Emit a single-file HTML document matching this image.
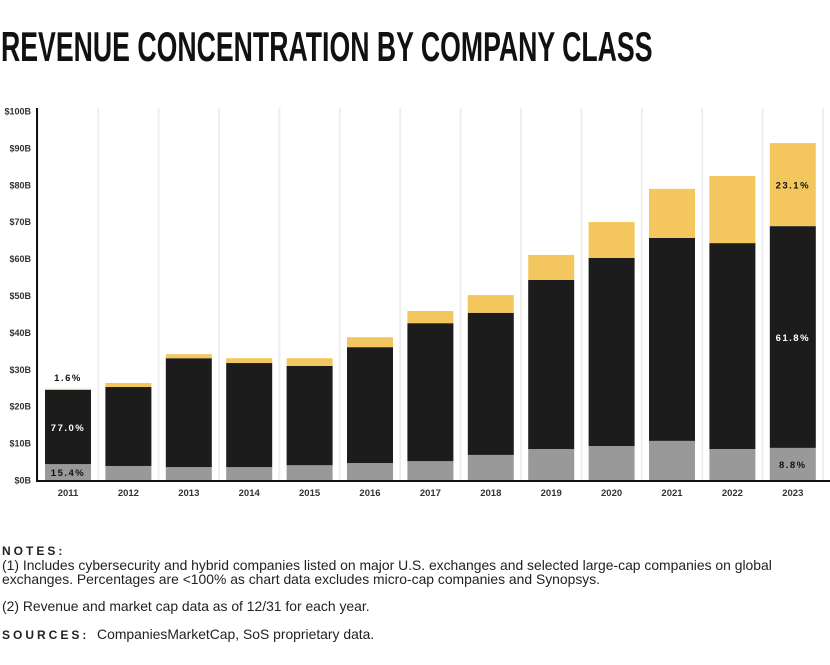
<!DOCTYPE html>
<html><head><meta charset="utf-8"><style>
body{margin:0;width:830px;height:665px;background:#fff;font-family:"Liberation Sans",sans-serif;overflow:hidden;position:relative}
#title{position:absolute;left:1px;top:25px;font-family:"Liberation Sans",sans-serif;font-weight:bold;font-size:42px;line-height:44px;letter-spacing:0;transform:scaleX(0.635);transform-origin:left;color:#111;margin:0;white-space:nowrap}
.notes{position:absolute;left:2px;width:785px;font-size:13.9px;color:#222;line-height:14px}
.hd{font-weight:bold;letter-spacing:3px;font-size:12px}
</style></head><body>
<h1 id="title">REVENUE CONCENTRATION BY COMPANY CLASS</h1>
<svg id="chart" width="830" height="500" style="position:absolute;left:0;top:0"></svg>
<div class="notes" style="top:543px"><span class="hd">NOTES:</span><br>(1) Includes cybersecurity and hybrid companies listed on major U.S. exchanges and selected large-cap companies on global exchanges. Percentages are &lt;100% as chart data excludes micro-cap companies and Synopsys.</div>
<div class="notes" style="top:599px">(2) Revenue and market cap data as of 12/31 for each year.</div>
<div class="notes" style="top:627px"><span class="hd">SOURCES:</span>&nbsp; CompaniesMarketCap, SoS proprietary data.</div>
<script>
const years=["2011","2012","2013","2014","2015","2016","2017","2018","2019","2020","2021","2022","2023"];
const grayVals=[4.3,3.8,3.5,3.5,4.0,4.6,5.1,6.8,8.4,9.2,10.6,8.4,8.7];
const blackVals=[20.1,21.4,29.5,28.2,26.9,31.4,37.4,38.5,45.8,51.0,55.0,55.8,60.1];
const yellowVals=[0.3,1.1,1.1,1.3,2.1,2.7,3.3,4.8,6.8,9.7,13.3,18.2,22.5];
const yTicks=[0,10,20,30,40,50,60,70,80,90,100];
const labels=[{i:0,s:"gray",t:"15.4%"},{i:0,s:"black",t:"77.0%"},{i:0,s:"yellow",t:"1.6%"},{i:12,s:"gray",t:"8.8%"},{i:12,s:"black",t:"61.8%"},{i:12,s:"yellow",t:"23.1%"}];
const svg=document.getElementById('chart');const NS="http://www.w3.org/2000/svg";
const y0=480,y1=111;const y=v=>y0-(y0-y1)*v/100;
const xc=i=>68+i*60.4;const bw=46;
function mk(t,a){const e=document.createElementNS(NS,t);for(const k in a)e.setAttribute(k,a[k]);svg.appendChild(e);return e;}
for(let i=0;i<=years.length;i++){const g=mk('line',{x1:xc(i)-30.2,x2:xc(i)-30.2,y1:108,y2:480,stroke:'#eee','stroke-width':2});

}
yTicks.forEach(v=>{const t=mk('text',{x:31,y:y(v)+3.5,'text-anchor':'end','font-size':9,'font-weight':'bold',fill:'#333'});t.textContent='$'+v+'B';

});
const segs={gray:[],black:[],yellow:[]};
years.forEach((yr,i)=>{let b=0;[['gray',grayVals,'#999'],['black',blackVals,'#1c1c1c'],['yellow',yellowVals,'#f4c65e']].forEach(([n,arr,c])=>{
const r=mk('rect',{x:xc(i)-bw/2,y:y(b+arr[i]),width:bw,height:y(b)-y(b+arr[i]),fill:c});


segs[n][i]=[b,b+arr[i]];b+=arr[i];});
const t=mk('text',{x:xc(i),y:496,'text-anchor':'middle','font-size':9.5,'font-weight':'bold',fill:'#333'});t.textContent=yr;

});
const ax=mk('path',{d:'M37 108 V481 H830',stroke:'#111','stroke-width':2,fill:'none'});


labels.forEach(l=>{const [a,b]=segs[l.s][l.i];let ty=(y(a)+y(b))/2+4;if(l.s==='yellow'&&l.i===0)ty=y(b)-8;
const t=mk('text',{x:xc(l.i),y:ty,'text-anchor':'middle','font-size':9.5,'font-weight':'bold','letter-spacing':1.5,fill:(l.s==='black')?'#fff':'#111'});t.textContent=l.t;

});
</script>
</body></html>
